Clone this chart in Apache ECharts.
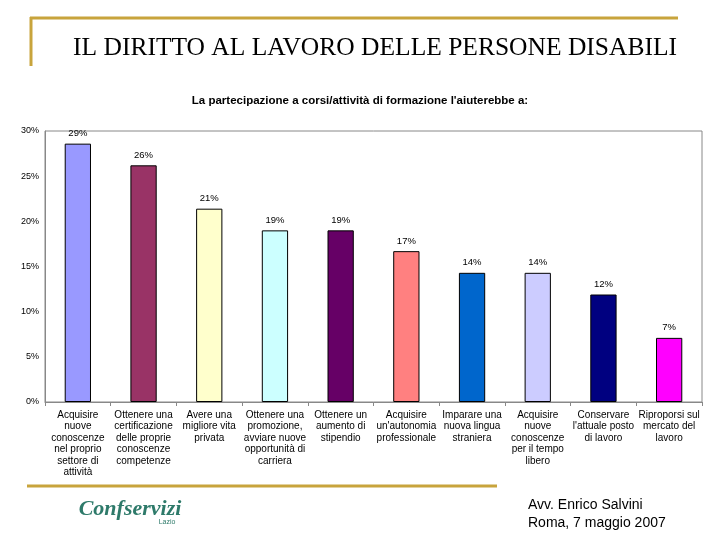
<!DOCTYPE html>
<html><head><meta charset="utf-8">
<script src="https://cdn.jsdelivr.net/npm/echarts@6/dist/echarts.min.js"></script>
<style>html,body{margin:0;padding:0;background:#fff}#c{width:720px;height:540px}</style>
</head><body><div id="c"></div>
<script>
const categories = [
  "Acquisire\nnuove\nconoscenze\nnel proprio\nsettore di\nattività",
  "Ottenere una\ncertificazione\ndelle proprie\nconoscenze\ncompetenze",
  "Avere una\nmigliore vita\nprivata",
  "Ottenere una\npromozione,\navviare nuove\nopportunità di\ncarriera",
  "Ottenere un\naumento di\nstipendio",
  "Acquisire\nun'autonomia\nprofessionale",
  "Imparare una\nnuova lingua\nstraniera",
  "Acquisire\nnuove\nconoscenze\nper il tempo\nlibero",
  "Conservare\nl'attuale posto\ndi lavoro",
  "Riproporsi sul\nmercato del\nlavoro"
];
const values = [28.6, 26.2, 21.4, 19.0, 19.0, 16.7, 14.3, 14.3, 11.9, 7.1];
const barColors = ["#9999FF","#993366","#FFFFCC","#CCFFFF","#660066","#FF8080","#0066CC","#CCCCFF","#000080","#FF00FF"];
const yTicks = [0,5,10,15,20,25,30];

const gold = "#C8A43C";
const chart = echarts.init(document.getElementById('c'));
chart.setOption({
  animation:false,
  backgroundColor:'#fff',
  title:{
    text:"La partecipazione a corsi/attività di formazione l'aiuterebbe a:",
    left:'center', top:90,
    textStyle:{fontFamily:'Liberation Sans', fontSize:11.5, fontWeight:'bold', color:'#000'}
  },
  grid:{left:45, right:18, top:131, bottom:138, show:true, borderColor:'#888', borderWidth:1},
  xAxis:{
    type:'category', data:categories,
    axisLine:{lineStyle:{color:'#888'}},
    axisTick:{show:true, length:4, lineStyle:{color:'#888'}},
    axisLabel:{interval:0, fontFamily:'Liberation Sans', fontSize:10, color:'#000', lineHeight:11.5, margin:7}
  },
  yAxis:{
    type:'value', min:0, max:30, interval:5,
    splitLine:{show:false},
    axisLine:{show:true, lineStyle:{color:'#888'}},
    axisTick:{show:false},
    axisLabel:{formatter:v=>v+'%', fontFamily:'Liberation Sans', fontSize:9, color:'#000', margin:6}
  },
  series:[{
    type:'bar',
    barWidth:'40%',
    data: values.map((v,i)=>({value:v, itemStyle:{color:barColors[i], borderColor:'#000', borderWidth:1}})),
    label:{show:true, position:'top', distance:5, formatter:p=>Math.round(p.value)+'%',
      fontFamily:'Liberation Sans', fontSize:9.5, color:'#000'}
  }],
  graphic:[
    {type:'line', shape:{x1:30,y1:18,x2:678,y2:18}, style:{stroke:gold, lineWidth:3}},
    {type:'line', shape:{x1:31,y1:17,x2:31,y2:66}, style:{stroke:gold, lineWidth:3}},
    {type:'text', x:375, y:48, style:{text:'IL DIRITTO AL LAVORO DELLE PERSONE DISABILI', fill:'#000',
      font:'25.5px "Liberation Serif"', align:'center', verticalAlign:'middle'}},
    {type:'line', shape:{x1:27,y1:486,x2:497,y2:486}, style:{stroke:gold, lineWidth:3}},
    {type:'text', x:130, y:509, style:{text:'Confservizi', fill:'#2E7A6A',
      font:'italic bold 22px "Liberation Serif"', align:'center', verticalAlign:'middle'}},
    {type:'text', x:167, y:522, style:{text:'Lazio', fill:'#2E7A6A',
      font:'7px "Liberation Sans"', align:'center', verticalAlign:'middle'}},
    {type:'text', x:528, y:505, style:{text:'Avv. Enrico Salvini', fill:'#000',
      font:'14px "Liberation Sans"', align:'left', verticalAlign:'middle'}},
    {type:'text', x:528, y:523, style:{text:'Roma, 7 maggio 2007', fill:'#000',
      font:'14px "Liberation Sans"', align:'left', verticalAlign:'middle'}}
  ]
});
</script></body></html>
